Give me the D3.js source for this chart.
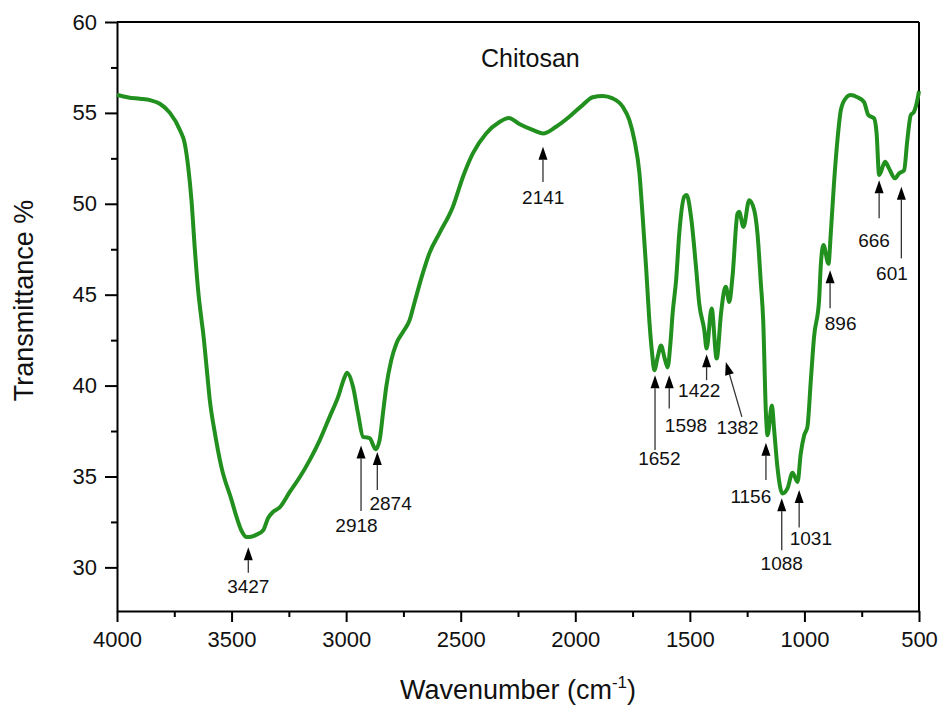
<!DOCTYPE html>
<html>
<head>
<meta charset="utf-8">
<script src="https://cdn.jsdelivr.net/npm/d3@7"></script>
<style>
  body { margin: 0; background: #fff; }
  svg { font-family: Arial, "Liberation Sans", sans-serif; }
  .axis path, .axis line { stroke: #000; stroke-width: 2; }
  .axis text { font-size: 22px; fill: #111; }
</style>
</head>
<body>
<script>

// FTIR spectrum of chitosan
var wavenumber = [4000, 3950, 3900, 3856, 3813, 3769, 3725, 3704, 3689, 3675, 3660, 3646, 3631, 3624, 3609, 3595, 3573, 3544, 3500, 3478, 3456, 3435, 3410, 3391, 3362, 3341, 3319, 3290, 3246, 3202, 3159, 3115, 3072, 3035, 3006, 2996, 2970, 2948, 2926, 2912, 2897, 2871, 2854, 2839, 2825, 2803, 2781, 2752, 2723, 2701, 2665, 2636, 2592, 2534, 2490, 2447, 2389, 2331, 2290, 2244, 2186, 2141, 2084, 2026, 1968, 1924, 1880, 1837, 1793, 1764, 1742, 1720, 1706, 1691, 1677, 1665, 1655, 1640, 1626, 1610, 1597, 1585, 1575, 1560, 1546, 1524, 1514, 1495, 1473, 1459, 1437, 1427, 1405, 1383, 1364, 1350, 1343, 1328, 1314, 1292, 1285, 1266, 1241, 1219, 1205, 1190, 1180, 1168, 1161, 1142, 1132, 1118, 1096, 1074, 1052, 1030, 1016, 1001, 987, 972, 958, 936, 929, 917, 895, 885, 871, 856, 841, 820, 798, 769, 740, 721, 696, 685, 674, 648, 631, 605, 587, 565, 551, 536, 522, 503, 500];
var transmittance = [56.0, 55.85, 55.78, 55.7, 55.5, 55.0, 54.05, 53.3, 52.0, 50.2, 47.45, 45.25, 43.6, 42.9, 41.0, 39.2, 37.4, 35.5, 33.7, 32.76, 32.0, 31.67, 31.7, 31.8, 32.04, 32.7, 33.05, 33.3, 34.15, 34.97, 35.9, 37.0, 38.28, 39.38, 40.48, 40.7, 39.93, 38.46, 37.18, 37.15, 37.1, 36.5, 37.0, 38.5, 39.93, 41.4, 42.3, 42.95, 43.6, 44.6, 46.2, 47.3, 48.4, 49.84, 51.49, 52.77, 53.87, 54.5, 54.72, 54.39, 54.06, 53.87, 54.24, 54.79, 55.43, 55.86, 55.93, 55.8, 55.34, 54.6, 53.5, 51.67, 49.3, 46.5, 43.6, 41.8, 40.85, 41.6, 42.2, 41.5, 41.0, 42.3, 44.0, 45.8, 48.4, 50.4, 50.48, 49.3, 46.5, 44.5, 43.05, 42.04, 44.24, 41.49, 43.97, 45.25, 45.43, 44.6, 45.98, 49.46, 49.56, 48.73, 50.2, 49.65, 48.37, 45.6, 43.6, 38.46, 37.27, 38.9, 37.55, 35.53, 34.06, 34.34, 35.2, 34.7, 36.26, 37.27, 37.73, 40.3, 42.68, 44.7, 46.53, 47.73, 46.7, 48.37, 51.12, 53.5, 55.16, 55.8, 55.98, 55.86, 55.6, 54.88, 54.7, 53.87, 51.58, 52.31, 51.95, 51.4, 51.67, 51.85, 53.5, 54.88, 55.06, 55.98, 56.2];

var xTicks = [4000, 3500, 3000, 2500, 2000, 1500, 1000, 500];
var xMinor = [3750, 3250, 2750, 2250, 1750, 1250, 750];
var yTicks = [30, 35, 40, 45, 50, 55, 60];
var yMinor = [32.5, 37.5, 42.5, 47.5, 52.5, 57.5];

// peak markers: label, arrow x / tip / tail, label x / baseline (all in data units)
var peakLabel = ["3427", "2918", "2874", "2141", "1652", "1598", "1422", "1382", "1156", "1088", "1031", "896", "666", "601"];
var arrowX    = [3427, 2935, 2864, 2141, 1652, 1590, 1427, 1343, 1168, 1099, 1023, 888, 674, 577];
var arrowTip  = [31.1, 36.7, 36.35, 53.14, 40.57, 40.57, 41.73, 41.3, 36.85, 33.8, 34.25, 46.35, 51.3, 50.94];
var tailX     = [3427, 2935, 2864, 2141, 1652, 1590, 1427, 1273, 1168, 1099, 1023, 888, 674, 577];
var arrowTail = [29.7, 33.1, 34.25, 51.2, 36.45, 38.74, 40.3, 38.28, 34.8, 30.94, 32.2, 44.26, 49.2, 47.0];
var labelX    = [3427, 2955, 2806, 2140, 1633, 1517, 1459, 1292, 1234, 1099, 972, 842, 696, 618];
var labelY    = [28.57, 31.95, 33.18, 49.98, 35.62, 37.45, 39.35, 37.33, 33.54, 29.84, 31.22, 43.05, 47.63, 45.8];

var width = 941,
    height = 706,
    margin = {top: 22, right: 22, bottom: 95, left: 117};

var svg = d3.select("body").append("svg")
    .attr("width", width)
    .attr("height", height);

var x = d3.scaleLinear()
    .domain([4000, 500])
    .range([margin.left, width - margin.right]);

var y = d3.scaleLinear()
    .domain([27.6, 60])
    .range([height - margin.bottom, margin.top]);

var x0 = x.range()[0], x1 = x.range()[1],
    y0 = y.range()[0], y1 = y.range()[1];

// frame: top and right are plain lines
svg.append("line")
    .attr("x1", x0).attr("x2", x1).attr("y1", y1).attr("y2", y1)
    .attr("stroke", "#000").attr("stroke-width", 2);
svg.append("line")
    .attr("x1", x1).attr("x2", x1).attr("y1", y1).attr("y2", y0)
    .attr("stroke", "#000").attr("stroke-width", 2);

// minor ticks first, then majors on top
svg.append("g")
    .attr("class", "axis")
    .attr("transform", "translate(0," + y0 + ")")
    .call(d3.axisBottom(x).tickValues(xMinor).tickSize(6).tickFormat(""))
    .select(".domain").remove();
svg.append("g")
    .attr("class", "axis")
    .attr("transform", "translate(" + x0 + ",0)")
    .call(d3.axisLeft(y).tickValues(yMinor).tickSize(6).tickFormat(""))
    .select(".domain").remove();

svg.append("g")
    .attr("class", "axis")
    .attr("transform", "translate(0," + y0 + ")")
    .call(d3.axisBottom(x).tickValues(xTicks).tickSize(11).tickSizeOuter(0).tickPadding(9).tickFormat(d3.format("d")));

svg.append("g")
    .attr("class", "axis")
    .attr("transform", "translate(" + x0 + ",0)")
    .call(d3.axisLeft(y).tickValues(yTicks).tickSize(12).tickSizeOuter(0).tickPadding(8).tickFormat(d3.format("d")));

// spectrum
var data = wavenumber.map(function(w, i) { return {w: w, t: transmittance[i]}; });

var line = d3.line()
    .x(function(d) { return x(d.w); })
    .y(function(d) { return y(d.t); })
    .curve(d3.curveMonotoneX);

svg.append("path")
    .datum(data)
    .attr("d", line)
    .attr("fill", "none")
    .attr("stroke", "#22901e")
    .attr("stroke-width", 4)
    .attr("stroke-linejoin", "round");

// arrows and peak labels
var ann = svg.append("g");
peakLabel.forEach(function(lab, i) {
    var tx = x(arrowX[i]), ty = y(arrowTip[i]),
        bx = x(tailX[i]), by = y(arrowTail[i]);
    var ang = Math.atan2(by - ty, bx - tx);
    var headLen = 13, headW = 4.5;
    var hx = tx + headLen * Math.cos(ang), hy = ty + headLen * Math.sin(ang);
    ann.append("line")
        .attr("x1", hx).attr("y1", hy).attr("x2", bx).attr("y2", by)
        .attr("stroke", "#333").attr("stroke-width", 1.3);
    var px = -Math.sin(ang) * headW, py = Math.cos(ang) * headW;
    ann.append("path")
        .attr("d", "M" + tx + "," + ty + "L" + (hx + px) + "," + (hy + py) + "L" + (hx - px) + "," + (hy - py) + "Z")
        .attr("fill", "#000");
    ann.append("text")
        .attr("x", x(labelX[i]))
        .attr("y", y(labelY[i]))
        .attr("text-anchor", "middle")
        .attr("font-size", 19)
        .attr("fill", "#111")
        .text(lab);
});

// sample name
svg.append("text")
    .attr("x", x(2196))
    .attr("y", y(57.5))
    .attr("text-anchor", "middle")
    .attr("font-size", 25)
    .attr("fill", "#111")
    .text("Chitosan");

// axis titles
var xt = svg.append("text")
    .attr("x", (x0 + x1) / 2)
    .attr("y", 699)
    .attr("text-anchor", "middle")
    .attr("font-size", 27)
    .attr("fill", "#111");
xt.append("tspan").text("Wavenumber (cm");
xt.append("tspan").attr("font-size", 17).attr("dy", -11).text("-1");
xt.append("tspan").attr("dy", 11).text(")");

svg.append("text")
    .attr("transform", "translate(33," + ((y0 + y1) / 2 - 16) + ") rotate(-90)")
    .attr("text-anchor", "middle")
    .attr("font-size", 27)
    .attr("fill", "#111")
    .text("Transmittance %");

</script>
</body>
</html>
